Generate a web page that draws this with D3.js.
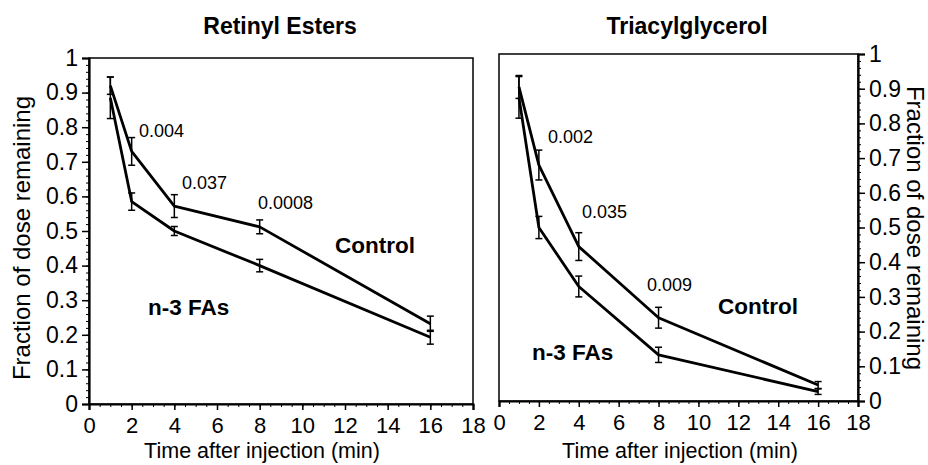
<!DOCTYPE html>
<html><head><meta charset="utf-8">
<script src="https://cdn.jsdelivr.net/npm/d3@7"></script>
<style>body{margin:0;background:#fff}svg{display:block}text{font-family:"Liberation Sans",Arial,sans-serif;fill:#000}</style>
</head><body><svg id="c" width="928" height="465"></svg>
<script>
const times = [1, 2, 4, 8, 16];
const xTicks = [0, 2, 4, 6, 8, 10, 12, 14, 16, 18];
const yTicks = [0, 0.1, 0.2, 0.3, 0.4, 0.5, 0.6, 0.7, 0.8, 0.9, 1];

const reControl = [0.92, 0.73, 0.572, 0.512, 0.232];
const reControlErr = [0.025, 0.04, 0.033, 0.02, 0.022];
const reN3 = [0.885, 0.585, 0.50, 0.40, 0.193];
const reN3Err = [0.06, 0.025, 0.013, 0.018, 0.02];
const rePvals = ["0.004", "0.037", "0.0008"];

const tgControl = [0.905, 0.68, 0.445, 0.24, 0.046];
const tgControlErr = [0.033, 0.043, 0.04, 0.03, 0.01];
const tgN3 = [0.875, 0.50, 0.33, 0.133, 0.027];
const tgN3Err = [0.06, 0.032, 0.03, 0.022, 0.008];
const tgPvals = ["0.002", "0.035", "0.009"];

const svg = d3.select("#c");

function panel(o) {
  const x = d3.scaleLinear().domain([0, 18]).range([o.x0, o.x1]);
  const y = d3.scaleLinear().domain([0, 1]).range([o.y0, o.y1]);
  const g = svg.append("g");
  g.append("rect").attr("x", o.x0).attr("y", o.y1).attr("width", o.x1 - o.x0).attr("height", o.y0 - o.y1)
    .attr("fill", "none").attr("stroke", "#000").attr("stroke-width", 1.5);
  const xa = g.append("g").attr("transform", `translate(0,${o.y0})`)
    .call(d3.axisBottom(x).tickValues(xTicks).tickFormat(d3.format("d")).tickSize(6).tickPadding(7));
  xa.select(".domain").attr("stroke-width", 2.2);
  xa.selectAll("line").attr("stroke-width", 1.5);
  xa.selectAll("text").attr("font-size", 22);
  g.append("g").attr("transform", `translate(0,${o.y0})`)
    .call(d3.axisBottom(x).tickValues(d3.range(0, 18.01, 0.5)).tickFormat("").tickSize(3))
    .call(s => s.select(".domain").remove());
  const ax = o.side === "left" ? d3.axisLeft(y) : d3.axisRight(y);
  const ya = g.append("g").attr("transform", `translate(${o.side === "left" ? o.x0 : o.x1},0)`)
    .call(ax.tickValues(yTicks).tickFormat(d => d === 0 || d === 1 ? d3.format("d")(d) : d3.format(".1f")(d)).tickSize(7).tickPadding(4));
  ya.select(".domain").attr("stroke-width", 2.2);
  ya.selectAll("line").attr("stroke-width", 1.5);
  ya.selectAll("text").attr("font-size", 23);
  const ax2 = o.side === "left" ? d3.axisLeft(y) : d3.axisRight(y);
  g.append("g").attr("transform", `translate(${o.side === "left" ? o.x0 : o.x1},0)`)
    .call(ax2.tickValues(d3.range(0, 1.001, 0.02)).tickFormat("").tickSize(3))
    .call(s => s.select(".domain").remove());
  const line = d3.line().x((d, i) => x(times[i])).y(d => y(d));
  [[o.ctrl, o.ctrlErr], [o.n3, o.n3Err]].forEach(([vals, errs]) => {
    g.append("path").datum(vals).attr("d", line).attr("fill", "none")
      .attr("stroke", "#000").attr("stroke-width", 2.8).attr("stroke-linejoin", "round");
    vals.forEach((v, i) => {
      const cx = x(times[i]);
      g.append("line").attr("x1", cx).attr("x2", cx).attr("y1", y(v - errs[i])).attr("y2", y(v + errs[i]))
        .attr("stroke", "#000").attr("stroke-width", 1.5);
      [v - errs[i], v + errs[i]].forEach(e => g.append("line").attr("x1", cx - 3.5).attr("x2", cx + 3.5)
        .attr("y1", y(e)).attr("y2", y(e)).attr("stroke", "#000").attr("stroke-width", 1.5));
    });
  });
  g.append("text").attr("x", o.titleX).attr("y", 34).attr("text-anchor", "middle")
    .attr("font-size", 23).attr("font-weight", "bold").text(o.title);
  g.append("text").attr("x", o.xtX).attr("y", 458).attr("text-anchor", "middle")
    .attr("font-size", 21.5).text("Time after injection (min)");
  o.pvals.forEach((p, i) => g.append("text").attr("x", o.pPos[i][0]).attr("y", o.pPos[i][1])
    .attr("font-size", 18).text(p));
  g.append("text").attr("x", o.ctrlLab[0]).attr("y", o.ctrlLab[1]).attr("font-size", 22.5)
    .attr("font-weight", "bold").text("Control");
  g.append("text").attr("x", o.n3Lab[0]).attr("y", o.n3Lab[1]).attr("font-size", 22.5)
    .attr("font-weight", "bold").text("n-3 FAs");
}

panel({x0: 89, x1: 473, y0: 404, y1: 58, side: "left", title: "Retinyl Esters", titleX: 280, xtX: 262,
  ctrl: reControl, ctrlErr: reControlErr, n3: reN3, n3Err: reN3Err, pvals: rePvals,
  pPos: [[139, 137], [182, 189], [258, 209]], ctrlLab: [335, 253], n3Lab: [148, 315]});
panel({x0: 499, x1: 858, y0: 401, y1: 54, side: "right", title: "Triacylglycerol", titleX: 687, xtX: 680,
  ctrl: tgControl, ctrlErr: tgControlErr, n3: tgN3, n3Err: tgN3Err, pvals: tgPvals,
  pPos: [[548, 143], [582, 218], [647, 291]], ctrlLab: [718, 314], n3Lab: [532, 360]});

svg.append("text").attr("transform", "translate(30,238) rotate(-90)").attr("text-anchor", "middle")
  .attr("font-size", 24).text("Fraction of dose remaining");
svg.append("text").attr("transform", "translate(907,228) rotate(90)").attr("text-anchor", "middle")
  .attr("font-size", 24).text("Fraction of dose remaining");
</script></body></html>
